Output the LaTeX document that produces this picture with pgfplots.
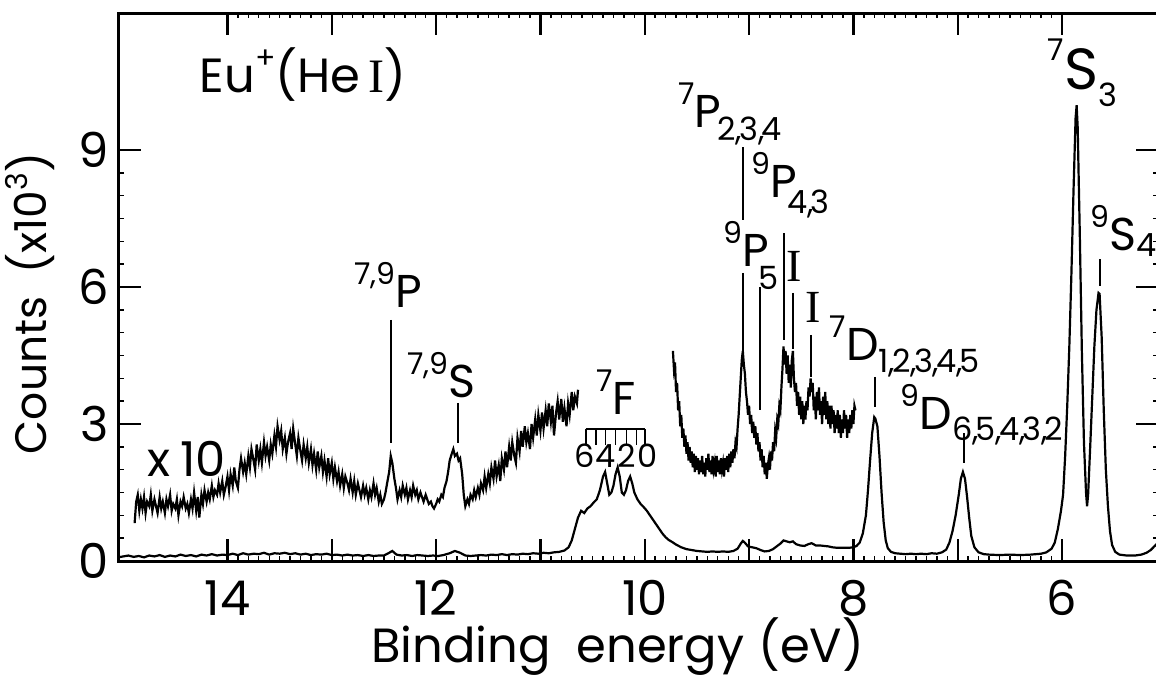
\documentclass[border=0pt]{standalone}
\usepackage{fontspec}
\setmainfont{Poppins}
\newfontfamily\serifI{Liberation Serif}
\usepackage{pgfplots}
\pgfplotsset{compat=1.18}

\newcommand{\lf}{\fontsize{23pt}{23pt}\selectfont}
\newcommand{\sups}[1]{\raisebox{0.5em}{\fontsize{15pt}{15pt}\selectfont #1}}
\newcommand{\sbs}[3]{\kern#1\raisebox{#2}{\fontsize{16pt}{16pt}\selectfont #3}}
\newcommand{\cm}{,\kern-1.5pt}
\newcommand{\RI}{{\serifI I}}

\pgfplotstableread{
x y
15.05 0.08
14.95 0.12
14.90 0.09
14.85 0.11
14.80 0.08
14.75 0.12
14.70 0.10
14.65 0.13
14.60 0.09
14.55 0.12
14.50 0.10
14.45 0.14
14.40 0.11
14.35 0.13
14.30 0.10
14.25 0.14
14.20 0.12
14.15 0.15
14.10 0.12
14.05 0.14
14.00 0.13
13.95 0.16
13.90 0.13
13.85 0.17
13.80 0.14
13.75 0.16
13.70 0.15
13.65 0.18
13.60 0.14
13.55 0.17
13.50 0.16
13.45 0.18
13.40 0.15
13.35 0.17
13.30 0.14
13.25 0.16
13.20 0.13
13.15 0.15
13.10 0.14
13.05 0.16
13.00 0.13
12.95 0.14
12.90 0.12
12.85 0.14
12.80 0.12
12.75 0.13
12.70 0.11
12.65 0.13
12.60 0.11
12.55 0.12
12.50 0.12
12.45 0.18
12.42 0.22
12.38 0.14
12.33 0.12
12.28 0.13
12.23 0.11
12.18 0.13
12.13 0.12
12.08 0.11
12.03 0.12
11.98 0.11
11.93 0.13
11.87 0.17
11.82 0.22
11.77 0.18
11.72 0.12
11.67 0.11
11.62 0.12
11.57 0.13
11.52 0.12
11.47 0.14
11.42 0.13
11.37 0.15
11.32 0.13
11.27 0.15
11.22 0.14
11.17 0.16
11.12 0.15
11.07 0.17
11.02 0.16
10.97 0.18
10.92 0.17
10.87 0.19
10.82 0.20
10.77 0.23
10.73 0.30
10.70 0.45
10.67 0.70
10.64 0.95
10.61 1.10
10.58 1.05
10.55 1.15
10.52 1.20
10.49 1.28
10.46 1.35
10.43 1.55
10.40 1.85
10.38 1.95
10.36 1.70
10.34 1.45
10.32 1.50
10.30 1.65
10.28 1.90
10.26 2.05
10.24 1.85
10.22 1.50
10.20 1.45
10.18 1.55
10.16 1.75
10.14 1.85
10.12 1.70
10.10 1.50
10.07 1.35
10.04 1.25
10.01 1.18
9.98 1.10
9.95 1.00
9.92 0.90
9.89 0.80
9.86 0.70
9.83 0.60
9.80 0.52
9.77 0.46
9.74 0.42
9.70 0.36
9.65 0.30
9.60 0.26
9.55 0.24
9.50 0.22
9.45 0.21
9.40 0.20
9.35 0.21
9.30 0.20
9.25 0.21
9.20 0.20
9.15 0.22
9.11 0.27
9.08 0.38
9.06 0.44
9.04 0.40
9.01 0.32
8.97 0.30
8.93 0.28
8.89 0.24
8.85 0.21
8.81 0.22
8.77 0.26
8.73 0.33
8.70 0.38
8.67 0.45
8.64 0.43
8.61 0.41
8.58 0.43
8.55 0.37
8.51 0.34
8.47 0.33
8.43 0.37
8.40 0.39
8.36 0.34
8.32 0.34
8.28 0.33
8.24 0.32
8.20 0.30
8.16 0.29
8.12 0.29
8.08 0.29
8.04 0.29
8.00 0.30
7.97 0.33
7.94 0.40
7.91 0.60
7.88 1.00
7.86 1.55
7.84 2.20
7.82 2.80
7.80 3.15
7.79 3.12
7.77 2.95
7.75 2.30
7.73 1.50
7.71 0.85
7.69 0.45
7.67 0.28
7.64 0.20
7.60 0.17
7.55 0.16
7.50 0.15
7.45 0.16
7.40 0.15
7.35 0.16
7.30 0.15
7.25 0.17
7.20 0.16
7.15 0.19
7.11 0.25
7.08 0.40
7.05 0.65
7.02 1.00
6.99 1.45
6.97 1.80
6.95 1.95
6.93 1.80
6.91 1.40
6.89 0.95
6.87 0.55
6.84 0.30
6.80 0.19
6.75 0.15
6.70 0.14
6.60 0.13
6.50 0.14
6.40 0.13
6.30 0.14
6.20 0.16
6.15 0.19
6.10 0.27
6.07 0.40
6.04 0.70
6.01 1.10
5.99 1.45
5.97 2.30
5.95 3.40
5.93 4.70
5.91 6.30
5.89 8.10
5.87 9.70
5.86 9.98
5.85 9.50
5.83 7.20
5.81 4.60
5.79 2.60
5.77 1.50
5.76 1.20
5.75 1.45
5.73 2.50
5.71 3.60
5.69 4.70
5.67 5.50
5.65 5.87
5.64 5.85
5.62 4.90
5.60 3.30
5.58 2.00
5.56 1.20
5.54 0.65
5.52 0.35
5.49 0.20
5.45 0.14
5.38 0.12
5.30 0.12
5.24 0.14
5.19 0.18
5.15 0.24
5.12 0.31
5.08 0.40
}\mainspec

\pgfplotstableread{
x y
14.890 0.83
14.875 1.30
14.860 1.45
14.845 1.10
14.830 1.35
14.815 1.15
14.800 1.40
14.785 1.05
14.770 1.30
14.750 1.20
14.735 1.45
14.720 1.10
14.700 1.35
14.685 1.20
14.670 1.05
14.650 1.40
14.635 1.15
14.620 1.30
14.600 1.05
14.585 1.35
14.570 1.20
14.550 1.45
14.535 1.10
14.520 1.25
14.500 1.15
14.485 1.35
14.470 1.00
14.450 1.30
14.435 1.20
14.420 1.40
14.400 1.15
14.385 1.25
14.370 1.05
14.350 1.35
14.335 1.15
14.320 1.50
14.300 1.10
14.285 1.40
14.270 0.95
14.250 1.45
14.235 1.25
14.220 1.55
14.200 1.30
14.185 1.50
14.170 1.35
14.150 1.65
14.135 1.40
14.120 1.55
14.100 1.45
14.085 1.70
14.070 1.50
14.050 1.75
14.035 1.45
14.020 1.60
14.000 1.85
13.985 1.55
13.970 1.90
13.950 1.65
13.935 2.05
13.920 1.75
13.900 1.60
13.885 2.00
13.870 2.25
13.850 1.95
13.835 2.15
13.820 1.90
13.800 2.30
13.785 2.05
13.770 2.45
13.750 2.20
13.735 2.00
13.720 2.55
13.700 2.20
13.685 2.45
13.670 2.15
13.650 2.60
13.635 2.30
13.620 2.50
13.600 2.20
13.585 2.55
13.570 2.35
13.550 2.75
13.535 2.50
13.520 2.95
13.500 2.65
13.485 2.85
13.470 2.45
13.450 2.70
13.435 2.35
13.420 2.60
13.400 2.80
13.385 2.45
13.370 2.90
13.350 2.55
13.335 2.30
13.320 2.70
13.300 2.40
13.285 2.20
13.270 2.55
13.250 2.25
13.235 2.50
13.220 2.15
13.200 2.45
13.185 2.10
13.170 2.35
13.150 2.00
13.135 2.40
13.120 2.05
13.100 2.30
13.085 1.95
13.070 2.20
13.050 1.85
13.035 2.25
13.020 1.90
13.000 2.15
12.985 1.80
12.970 2.05
12.950 1.75
12.935 1.95
12.920 1.65
12.900 1.90
12.885 1.60
12.870 1.85
12.850 1.70
12.835 1.55
12.820 1.80
12.800 1.50
12.785 1.75
12.770 1.45
12.750 1.70
12.735 1.55
12.720 1.40
12.700 1.65
12.685 1.45
12.670 1.60
12.650 1.35
12.635 1.55
12.620 1.40
12.600 1.70
12.585 1.45
12.570 1.60
12.550 1.30
12.535 1.45
12.520 1.25
12.500 1.35
12.485 1.50
12.470 1.70
12.450 1.95
12.435 2.30
12.420 2.15
12.400 1.80
12.385 1.60
12.370 1.35
12.350 1.55
12.335 1.40
12.320 1.65
12.300 1.45
12.285 1.60
12.270 1.35
12.250 1.55
12.235 1.40
12.220 1.65
12.200 1.45
12.185 1.55
12.170 1.35
12.150 1.50
12.135 1.40
12.120 1.30
12.100 1.45
12.085 1.35
12.070 1.25
12.050 1.30
12.035 1.20
12.020 1.15
12.000 1.25
11.985 1.35
11.970 1.30
11.950 1.45
11.935 1.40
11.920 1.60
11.900 1.75
11.885 1.95
11.870 2.20
11.850 2.35
11.835 2.45
11.820 2.30
11.800 2.35
11.785 2.20
11.770 2.25
11.750 1.90
11.735 1.45
11.720 1.20
11.700 1.35
11.685 1.25
11.670 1.45
11.650 1.35
11.635 1.55
11.620 1.40
11.600 1.60
11.585 1.45
11.570 1.70
11.550 1.55
11.535 1.85
11.520 1.60
11.500 1.90
11.485 1.70
11.470 2.05
11.450 1.80
11.435 2.20
11.420 1.85
11.400 2.10
11.385 1.75
11.370 2.25
11.350 2.00
11.335 2.40
11.320 2.05
11.300 2.50
11.285 2.20
11.270 2.60
11.250 2.30
11.235 2.15
11.220 2.70
11.200 2.40
11.185 2.85
11.170 2.50
11.150 2.95
11.135 2.60
11.120 2.80
11.100 2.45
11.085 3.00
11.070 2.70
11.050 3.10
11.035 2.75
11.020 3.20
11.000 2.85
10.985 3.25
10.970 2.90
10.950 3.30
10.935 2.95
10.920 3.45
10.900 3.05
10.885 3.40
10.870 2.75
10.850 3.25
10.835 3.50
10.820 3.10
10.800 3.55
10.785 3.05
10.770 3.35
10.750 2.95
10.735 3.45
10.720 3.20
10.700 3.70
10.685 3.30
10.670 3.60
10.650 3.45
10.640 3.75
}\xtenA

\pgfplotstableread{
x y
9.73 4.60
9.72 4.20
9.71 4.35
9.70 3.70
9.69 3.90
9.68 3.30
9.67 3.50
9.66 2.95
9.65 3.20
9.64 2.70
9.63 2.90
9.62 2.50
9.61 2.75
9.60 2.35
9.59 2.60
9.58 2.20
9.57 2.50
9.56 2.15
9.55 2.40
9.54 2.05
9.53 2.35
9.52 1.95
9.51 2.30
9.50 2.00
9.49 2.25
9.48 1.90
9.47 2.20
9.46 1.95
9.45 2.30
9.44 1.90
9.43 2.15
9.42 1.85
9.41 2.25
9.40 2.00
9.39 2.35
9.38 1.95
9.37 2.20
9.36 1.90
9.35 2.30
9.34 2.00
9.33 2.15
9.32 1.85
9.31 2.30
9.30 1.95
9.29 2.20
9.28 1.90
9.27 2.25
9.26 2.00
9.25 2.15
9.24 1.85
9.23 2.25
9.22 2.00
9.21 2.30
9.20 1.95
9.19 2.35
9.18 2.05
9.17 2.40
9.16 2.15
9.15 2.45
9.14 2.25
9.13 2.60
9.12 2.50
9.11 2.90
9.10 3.20
9.09 3.60
9.08 4.00
9.07 4.40
9.06 4.60
9.05 4.30
9.04 4.10
9.03 3.70
9.02 3.50
9.01 3.20
9.00 3.40
8.99 3.00
8.98 3.20
8.97 2.80
8.96 3.05
8.95 2.70
8.94 2.95
8.93 2.55
8.92 2.80
8.91 2.40
8.90 2.60
8.89 2.20
8.88 2.45
8.87 2.05
8.86 2.30
8.85 1.90
8.84 2.15
8.83 1.80
8.82 2.10
8.81 2.25
8.80 2.00
8.79 2.40
8.78 2.20
8.77 2.60
8.76 2.40
8.75 2.85
8.74 2.70
8.73 3.10
8.72 3.00
8.71 3.40
8.70 3.30
8.69 3.80
8.68 4.20
8.67 4.70
8.66 4.30
8.65 4.60
8.64 4.10
8.63 4.50
8.62 3.90
8.61 4.30
8.60 3.80
8.59 4.40
8.58 4.60
8.57 4.00
8.56 3.70
8.55 3.90
8.54 3.40
8.53 3.70
8.52 3.20
8.51 3.60
8.50 3.10
8.49 3.50
8.48 3.00
8.47 3.40
8.46 3.10
8.45 3.50
8.44 3.30
8.43 3.80
8.42 3.60
8.41 4.00
8.40 3.70
8.39 3.90
8.38 3.30
8.37 3.60
8.36 3.10
8.35 3.70
8.34 3.30
8.33 3.80
8.32 3.20
8.31 3.50
8.30 3.00
8.29 3.60
8.28 3.20
8.27 3.70
8.26 3.10
8.25 3.50
8.24 3.00
8.23 3.40
8.22 2.90
8.21 3.40
8.20 3.00
8.19 3.30
8.18 2.80
8.17 3.20
8.16 2.90
8.15 3.30
8.14 2.80
8.13 3.20
8.12 2.70
8.11 3.10
8.10 2.80
8.09 3.30
8.08 2.90
8.07 3.20
8.06 2.70
8.05 3.10
8.04 2.80
8.03 3.20
8.02 2.90
8.01 3.30
8.00 3.00
7.99 3.40
7.98 3.30
}\xtenB

\begin{document}
\begin{tikzpicture}
\begin{axis}[
  at={(0,0)}, anchor=south west,
  scale only axis, width=519.5pt, height=274pt,
  xmin=5.08, xmax=15.04, x dir=reverse,
  ymin=0, ymax=12,
  xtick={6,7,...,14}, xticklabels={6,,8,,10,,12,,14},
  ytick={0,3,6,9},
  minor x tick num=9, minor y tick num=5,
  tick align=inside, tick pos=both,
  major tick length=11pt, minor tick length=2.5pt,
  axis line style={line width=1.5pt},
  every tick/.append style={line width=1.2pt, black},
  every minor tick/.append style={line width=0.7pt},
  tick label style={font=\fontsize{24pt}{24pt}\selectfont},
  /pgf/number format/assume math mode=true,
  xticklabel style={anchor=base, yshift=-27pt},
  yticklabel style={anchor=east, inner sep=0pt, xshift=-5pt},
  xlabel={Binding\hspace{13pt}energy\hspace{7pt}(eV)},
  xlabel style={font=\fontsize{24pt}{24pt}\selectfont, at={(axis description cs:0.48,0)}, anchor=base, yshift=-50.5pt},
  ylabel={Counts\ \ (x10\raisebox{0.45em}{\fontsize{15pt}{15pt}\selectfont 3})},
  ylabel style={font=\fontsize{22pt}{22pt}\selectfont, at={(axis description cs:-0.0693,0.47)}, anchor=base},
]
\addplot[black, line width=1.1pt, no marks] table {\mainspec};
\addplot[black, line width=1.1pt, no marks] table {\xtenA};
\addplot[black, line width=1.1pt, no marks] table {\xtenB};

% annotations
\node[anchor=base west, inner sep=0pt, font=\fontsize{24pt}{24pt}\selectfont] at (axis cs:14.27,10.27) {Eu\sups{+}(He\,\RI)};
\node[anchor=base west, inner sep=0pt, font=\fontsize{24pt}{24pt}\selectfont] at (axis cs:14.77,1.84) {x\hspace{5pt}10};

\node[anchor=base west, inner sep=0pt, font=\lf] at (axis cs:12.79,5.56) {\sups{7,9}P};
\draw[line width=1pt] (axis cs:12.43,5.28) -- (axis cs:12.43,2.58);
\node[anchor=base west, inner sep=0pt, font=\lf] at (axis cs:12.28,3.59) {\sups{7,9}S};
\draw[line width=1pt] (axis cs:11.79,3.46) -- (axis cs:11.79,2.58);

\node[anchor=base west, inner sep=0pt, font=\lf] at (axis cs:10.47,3.20) {\sups{7}F};
\draw[line width=0.9pt] (axis cs:10.567,2.89) -- (axis cs:9.994,2.89);
\foreach \t in {10.567,10.471,10.376,10.280,10.175,10.080,9.994}{
  \edef\temp{\noexpand\draw[line width=0.9pt] (axis cs:\t,2.89) -- (axis cs:\t,2.54);}\temp
}
\foreach \t/\l in {10.58/6,10.38/4,10.17/2,9.97/0}{
  \edef\temp{\noexpand\node[anchor=base, inner sep=0pt, font=\noexpand\fontsize{16pt}{16pt}\noexpand\selectfont] at (axis cs:\t,2.04) {\l};}\temp
}

\node[anchor=base west, inner sep=0pt, font=\lf] at (axis cs:9.68,9.50) {\sups{7}P\sbs{-2pt}{-0.3em}{2\cm3\cm4}};
\draw[line width=1pt] (axis cs:9.06,9.06) -- (axis cs:9.06,7.47);
\draw[line width=1pt] (axis cs:9.06,6.31) -- (axis cs:9.06,4.60);
\node[anchor=base west, inner sep=0pt, font=\lf] at (axis cs:8.98,7.97) {\sups{9}P\sbs{-5pt}{-0.35em}{4\cm3}};
\draw[line width=1pt] (axis cs:8.665,7.18) -- (axis cs:8.665,4.85);
\node[anchor=base west, inner sep=0pt, font=\lf] at (axis cs:9.25,6.44) {\sups{9}P\sbs{-5pt}{-0.5em}{5}};
\draw[line width=1pt] (axis cs:8.895,6.0) -- (axis cs:8.895,3.3);
\node[font=\lf, inner sep=0pt] at (axis cs:8.57,6.44) {\RI};
\draw[line width=1pt] (axis cs:8.58,5.87) -- (axis cs:8.58,4.65);
\node[font=\lf, inner sep=0pt] at (axis cs:8.39,5.56) {\RI};
\draw[line width=1pt] (axis cs:8.41,4.95) -- (axis cs:8.41,4.03);

\node[anchor=base west, inner sep=0pt, font=\lf] at (axis cs:8.23,4.40) {\sups{7}D\sbs{0pt}{-0.28em}{1\cm2\cm3\cm4\cm5}};
\draw[line width=1pt] (axis cs:7.79,4.03) -- (axis cs:7.79,3.37);
\node[anchor=base west, inner sep=0pt, font=\lf] at (axis cs:7.55,2.87) {\sups{9}D\sbs{0pt}{-0.22em}{6\cm5\cm4\cm3\cm2}};
\draw[line width=1pt] (axis cs:6.94,2.80) -- (axis cs:6.94,2.15);

\node[anchor=base west, inner sep=0pt, font=\fontsize{29pt}{29pt}\selectfont] at (axis cs:6.14,10.33) {\sups{7}S\sbs{0pt}{-0.3em}{3}};
\node[anchor=base west, inner sep=0pt, font=\lf] at (axis cs:5.73,6.81) {\sups{9}S\sbs{0pt}{-0.15em}{4}};
\draw[line width=1pt] (axis cs:5.64,6.61) -- (axis cs:5.64,6.02);
\end{axis}
\pgfresetboundingbox
\path (-59.5pt,-57.5pt) rectangle (518.5pt,280.5pt);
\end{tikzpicture}
\end{document}
